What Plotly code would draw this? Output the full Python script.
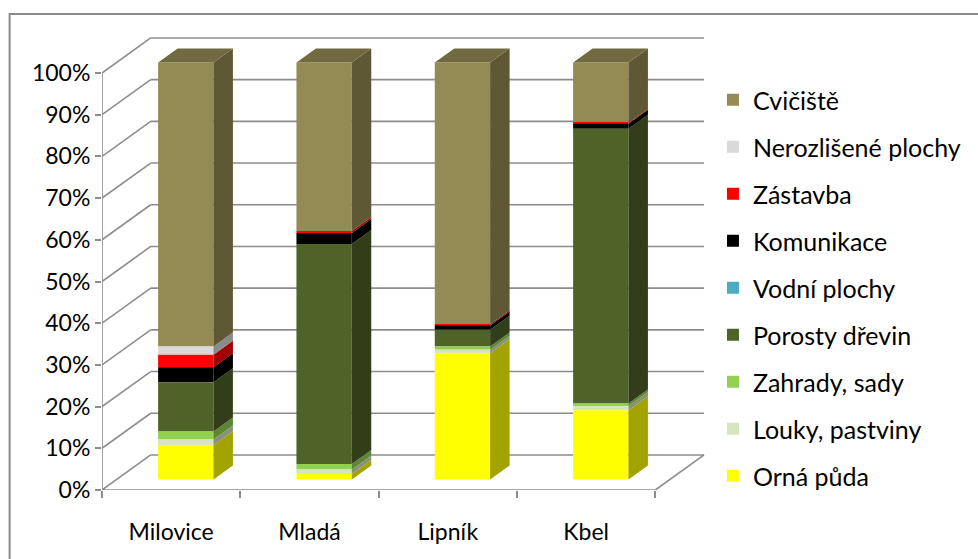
import plotly.graph_objects as go

# Land-use shares by locality (percent of area)
categories = ["Milovice", "Mladá", "Lipník", "Kbel"]
orna_puda = [8.2, 1.3, 30.3, 16.6]
louky_pastviny = [1.4, 1.1, 0.8, 1.0]
zahrady_sady = [1.9, 1.3, 0.8, 0.6]
porosty_drevin = [11.8, 52.8, 4.0, 65.9]
vodni_plochy = [0.0, 0.0, 0.0, 0.0]
komunikace = [3.6, 2.6, 1.0, 1.2]
zastavba = [3.0, 0.5, 0.3, 0.2]
nerozlisene_plochy = [2.0, 0.0, 0.0, 0.0]
cviciste = [68.1, 40.4, 62.8, 14.5]

series_names = ["Orná půda", "Louky, pastviny", "Zahrady, sady", "Porosty dřevin",
                "Vodní plochy", "Komunikace", "Zástavba", "Nerozlišené plochy", "Cvičiště"]
series_values = [orna_puda, louky_pastviny, zahrady_sady, porosty_drevin,
                 vodni_plochy, komunikace, zastavba, nerozlisene_plochy, cviciste]
series_colors = ["#FFFF00", "#D7E4BD", "#92D050", "#4F6228",
                 "#4BACC6", "#000000", "#FF0000", "#D9D9D9", "#948A54"]

y_ticks = [0, 10, 20, 30, 40, 50, 60, 70, 80, 90, 100]

# oblique projection of the depth axis (in data units)
DX, DY = 0.352, 0.084
Z_FRONT, Z_BACK = 0.3, 0.7
BAR_W = 0.4
N = len(categories)

FONT = "Lato"
GRID = "#8c8c8c"


def shade(hex_color, k):
    h = hex_color.lstrip("#")
    r, g, b = (int(h[i:i + 2], 16) for i in (0, 2, 4))
    return "#%02x%02x%02x" % (int(r * k), int(g * k), int(b * k))


totals = [sum(s[i] for s in series_values) for i in range(N)]
fractions = [[s[i] / totals[i] for i in range(N)] for s in series_values]

# stacking bases, bottom segment first
cum = [0.0] * N
bases = []
for frac in fractions:
    bases.append(list(cum))
    cum = [c + f for c, f in zip(cum, frac)]

fig = go.Figure()

# front faces of the stacked segments (top series first so the legend lists it first)
for name, frac, col, base in reversed(list(zip(series_names, fractions, series_colors, bases))):
    fig.add_trace(go.Bar(
        x=[i + 0.5 + Z_FRONT * DX for i in range(N)],
        y=frac,
        base=[c + Z_FRONT * DY for c in base],
        width=BAR_W,
        name=name,
        legendgroup=name,
        marker=dict(color=col, line=dict(width=0)),
        hoverinfo="skip",
    ))

# right-hand side faces
for name, frac, col, base in zip(series_names, fractions, series_colors, bases):
    xs, ys = [], []
    for i in range(N):
        if frac[i] <= 0:
            continue
        xr = i + 0.5 + BAR_W / 2
        y0, y1 = base[i], base[i] + frac[i]
        xs += [xr + Z_FRONT * DX, xr + Z_BACK * DX, xr + Z_BACK * DX, xr + Z_FRONT * DX, None]
        ys += [y0 + Z_FRONT * DY, y0 + Z_BACK * DY, y1 + Z_BACK * DY, y1 + Z_FRONT * DY, None]
    if xs:
        fig.add_trace(go.Scatter(
            x=xs, y=ys, mode="none", fill="toself", fillcolor=shade(col, 0.64),
            showlegend=False, hoverinfo="skip",
        ))

# top faces of the uppermost segment of each column
for i in range(N):
    top_idx = max(k for k in range(len(series_values)) if fractions[k][i] > 0)
    xl, xr = i + 0.5 - BAR_W / 2, i + 0.5 + BAR_W / 2
    top = bases[top_idx][i] + fractions[top_idx][i]
    fig.add_trace(go.Scatter(
        x=[xl + Z_FRONT * DX, xr + Z_FRONT * DX, xr + Z_BACK * DX, xl + Z_BACK * DX],
        y=[top + Z_FRONT * DY, top + Z_FRONT * DY, top + Z_BACK * DY, top + Z_BACK * DY],
        mode="none", fill="toself", fillcolor=shade(series_colors[top_idx], 0.77),
        showlegend=False, hoverinfo="skip",
    ))

# walls and floor of the 3-D plot area
shapes = []
line_style = dict(color=GRID, width=1.6)
for t in y_ticks:
    g = t / 100
    shapes.append(dict(type="line", xref="x", yref="y", x0=0, y0=g, x1=DX, y1=g + DY,
                       line=line_style, layer="below"))
    shapes.append(dict(type="line", xref="x", yref="y", x0=DX, y0=g + DY, x1=N + DX, y1=g + DY,
                       line=line_style, layer="below"))
shapes.append(dict(type="line", xref="x", yref="y", x0=0, y0=0, x1=N, y1=0,
                   line=line_style, layer="below"))
shapes.append(dict(type="line", xref="x", yref="y", x0=N, y0=0, x1=N + DX, y1=DY,
                   line=line_style, layer="below"))
shapes.append(dict(type="line", xref="x", yref="y", x0=0, y0=0, x1=0, y1=1,
                   line=line_style, layer="below"))

# chart frame
W, H = 978, 559
ML, MR, MT, MB = 102, 266, 30, 69
PW, PH = W - ML - MR, H - MT - MB


def px_to_paper(px, py):
    return (px - ML) / PW, (H - MB - py) / PH


fx0, fy0 = px_to_paper(9, 14)
fx1, fy1 = px_to_paper(995, 575)
shapes.append(dict(type="rect", xref="paper", yref="paper", x0=fx0, y0=fy1, x1=fx1, y1=fy0,
                   line=dict(color="#8a8a8a", width=2), fillcolor="rgba(0,0,0,0)", layer="below"))

x_span = PW / 139.25
y_span = PH / 417.0

lx, ly = px_to_paper(717, 77)

fig.update_layout(
    width=W, height=H,
    margin=dict(l=ML, r=MR, t=MT, b=MB, pad=0),
    paper_bgcolor="white", plot_bgcolor="white",
    barmode="overlay",
    shapes=shapes,
    font=dict(family=FONT, size=23, color="#000000"),
    showlegend=True,
    legend=dict(
        x=lx, y=ly, xanchor="left", yanchor="top",
        traceorder="grouped", tracegroupgap=11.5,
        font=dict(family=FONT, size=25, color="#000000"),
        bgcolor="rgba(0,0,0,0)",
    ),
    xaxis=dict(
        range=[0, x_span], showgrid=False, zeroline=False, showline=False,
        tickvals=[i + 0.5 for i in range(N)], ticktext=categories,
        ticks="", ticklabelstandoff=26,
        minor=dict(tickvals=list(range(N + 1)), ticks="outside", ticklen=7,
                   tickcolor=GRID, tickwidth=1.6, showgrid=False),
        fixedrange=True,
    ),
    yaxis=dict(
        range=[0, y_span], showgrid=False, zeroline=False, showline=False,
        tickvals=[t / 100 for t in y_ticks], ticktext=[f"{t}%" for t in y_ticks],
        ticks="outside", ticklen=6, tickcolor=GRID, tickwidth=1.6,
        fixedrange=True,
    ),
)

fig.write_html("out.html")
